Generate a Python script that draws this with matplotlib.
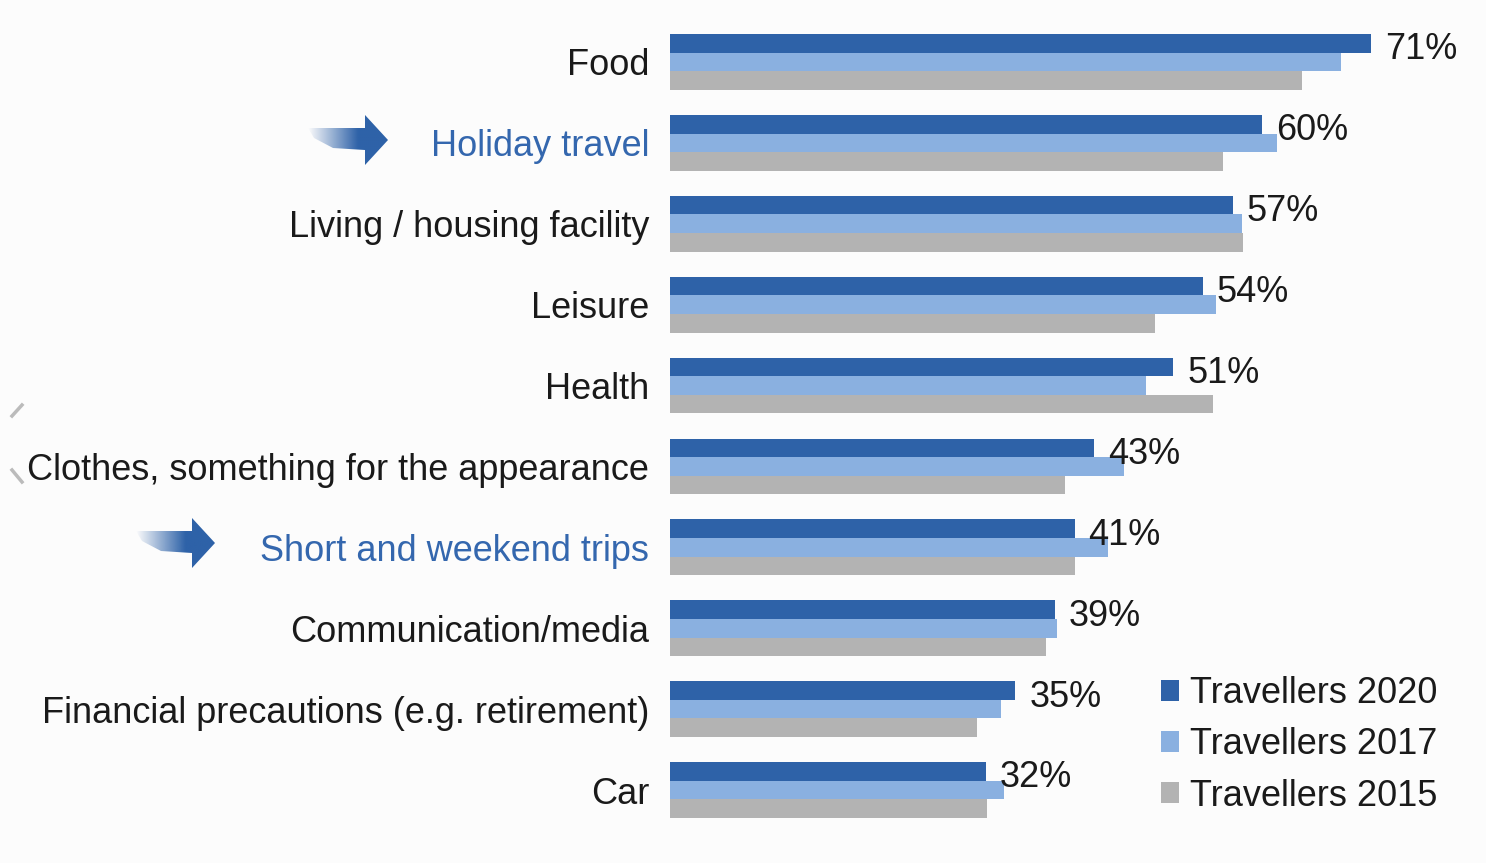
import numpy as np
import matplotlib
matplotlib.use("Agg")
import matplotlib.pyplot as plt
from matplotlib.patches import Polygon

plt.rcParams['font.family'] = ['Liberation Sans', 'DejaVu Sans']

categories = ["Food", "Holiday travel", "Living / housing facility", "Leisure", "Health",
              "Clothes, something for the appearance", "Short and weekend trips",
              "Communication/media", "Financial precautions (e.g. retirement)", "Car"]
highlighted = ["Holiday travel", "Short and weekend trips"]
travellers_2020 = [71, 60, 57, 54, 51, 43, 41, 39, 35, 32]
travellers_2017 = [68, 61.5, 58, 55.3, 48.2, 46, 44.4, 39.2, 33.5, 33.8]
travellers_2015 = [64, 56, 58.1, 49.1, 55, 40, 41, 38.1, 31.1, 32.1]
series_names = ["Travellers 2020", "Travellers 2017", "Travellers 2015"]
colors = ["#2E62A8", "#8AB0E0", "#B3B3B3"]

W, H = 1486, 863
fig = plt.figure(figsize=(W / 100, H / 100), dpi=100, facecolor="#FCFCFC")

# full-figure pixel overlay for decorations (arrows, bracket)
deco = fig.add_axes([0, 0, 1, 1], zorder=0)
deco.set_xlim(0, W)
deco.set_ylim(H, 0)
deco.axis("off")

ax = fig.add_axes([670 / W, (H - 830.5) / H, 810 / W, 809 / H], zorder=1)
ax.patch.set_alpha(0)

y = np.arange(len(categories))
h = 0.23
ax.barh(y - h, travellers_2020, height=h, color=colors[0], label=series_names[0])
ax.barh(y, travellers_2017, height=h, color=colors[1], label=series_names[1])
ax.barh(y + h, travellers_2015, height=h, color=colors[2], label=series_names[2])

for yi, v in zip(y, travellers_2020):
    ax.annotate(f"{v:.0f}%", (v, yi - h + 0.08), xytext=(10, 0), textcoords="offset points",
                va="center", ha="left", fontsize=26, color="#1a1a1a")

ax.set_xlim(0, 810 / 9.87)
ax.set_ylim(len(categories) - 0.5, -0.5)
ax.set_yticks(y)
ax.set_yticklabels(categories, fontsize=26)
for lbl in ax.get_yticklabels():
    lbl.set_color("#3467AE" if lbl.get_text() in highlighted else "#1a1a1a")
ax.tick_params(axis="y", length=0, pad=15)
ax.set_xticks([])
for s in ax.spines.values():
    s.set_visible(False)

leg = ax.legend(loc="upper left", bbox_to_anchor=(1143 / W, 1 - 658 / H), bbox_transform=fig.transFigure,
                frameon=False, fontsize=26, handlelength=0.5, handleheight=0.5,
                handletextpad=0.3, labelspacing=0.45, borderpad=0)
for t in leg.get_texts():
    t.set_color("#1a1a1a")


def gradient_arrow(x0, x1, yc):
    hx = x1 - 23
    pts = [(x0, yc - 12), (hx, yc - 12), (hx, yc - 25), (x1, yc), (hx, yc + 25),
           (hx, yc + 10), (x0 + 25, yc + 8), (x0 + 6, yc - 2)]
    poly = Polygon(pts, closed=True, facecolor="none", edgecolor="none")
    deco.add_patch(poly)
    grad = np.linspace(0, 1, 200)
    grad = np.clip(grad * 1.6, 0, 1)
    rgba = np.zeros((1, 200, 4))
    rgba[..., 0] = 0x2E / 255
    rgba[..., 1] = 0x62 / 255
    rgba[..., 2] = 0xA8 / 255
    rgba[..., 3] = grad
    im = deco.imshow(rgba, extent=(x0, x1, yc + 26, yc - 26), aspect="auto", interpolation="bilinear")
    im.set_clip_path(poly)


gradient_arrow(308, 388, 140)
gradient_arrow(136, 215, 543)

deco.plot([12, 22], [416, 405], color="#BBBBBB", lw=2.5)
deco.plot([12, 22], [470, 482], color="#BBBBBB", lw=2.5)
deco.set_xlim(0, W)
deco.set_ylim(H, 0)

fig.savefig("out.png", dpi=100, facecolor=fig.get_facecolor())
